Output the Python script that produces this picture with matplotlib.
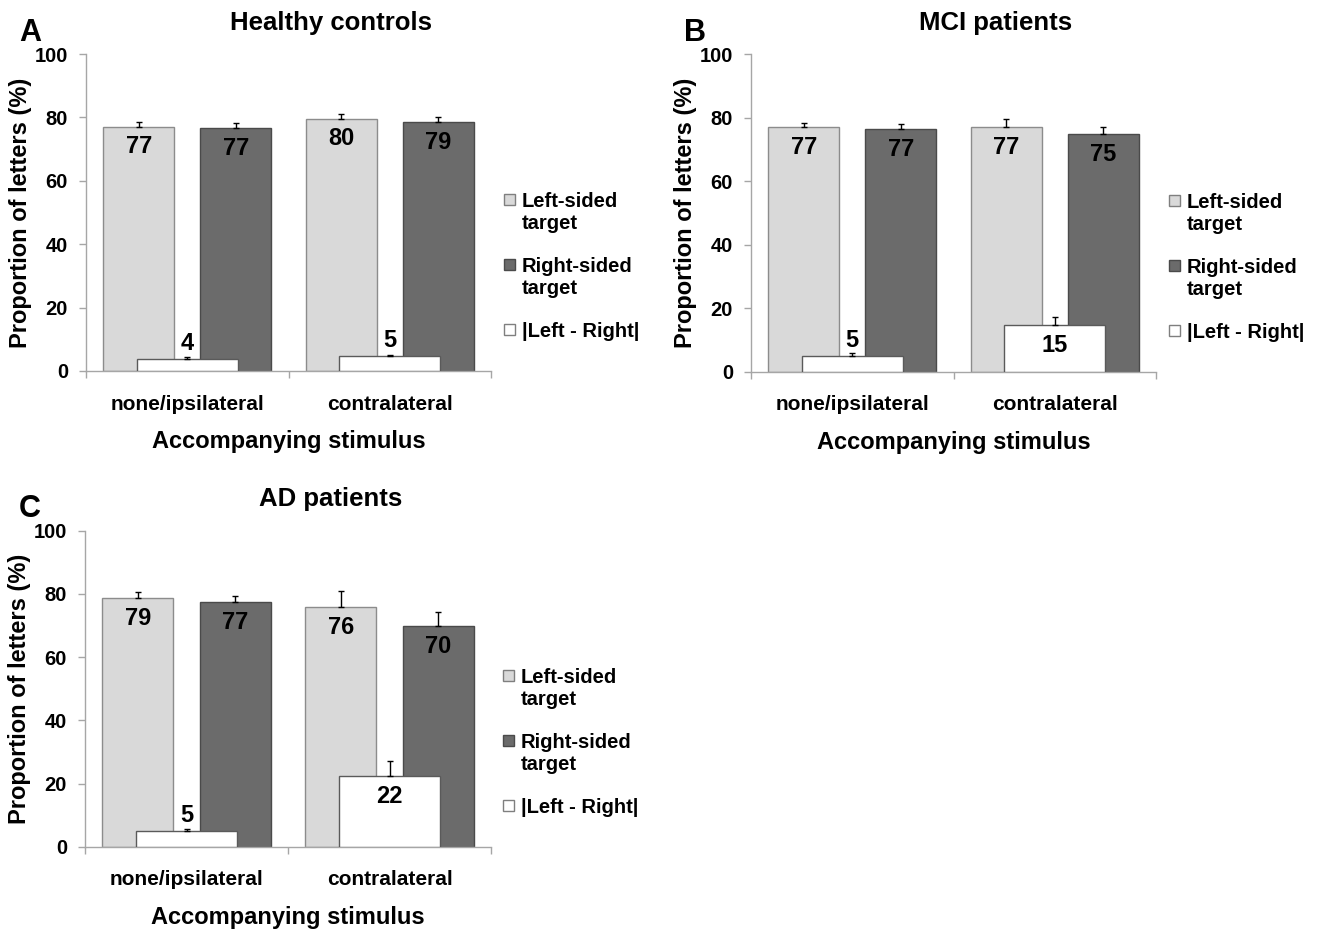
import matplotlib
matplotlib.use("Agg")
import matplotlib.pyplot as plt
from matplotlib.patches import Rectangle
import numpy as np

plt.rcParams['font.family'] = ['Liberation Sans', 'DejaVu Sans']
plt.rcParams['font.weight'] = 'bold'

# ---------------- data ----------------
categories = ["none/ipsilateral", "contralateral"]
panel_letters = ["A", "B", "C"]
panel_titles = ["Healthy controls", "MCI patients", "AD patients"]
series_names = ["Left-sided\ntarget", "Right-sided\ntarget", "|Left - Right|"]

hc_left = [77.1, 79.6]
hc_right = [76.7, 78.6]
hc_diff = [3.7, 4.6]
hc_left_err = [1.4, 1.5]
hc_right_err = [1.5, 1.5]
hc_diff_err = [0.7, 0.6]

mci_left = [77.1, 77.2]
mci_right = [76.6, 75.0]
mci_diff = [4.8, 14.6]
mci_left_err = [1.2, 2.6]
mci_right_err = [1.5, 2.2]
mci_diff_err = [1.2, 2.6]

ad_left = [78.6, 75.9]
ad_right = [77.3, 69.8]
ad_diff = [5.0, 22.4]
ad_left_err = [1.9, 5.0]
ad_right_err = [2.1, 4.4]
ad_diff_err = [0.7, 4.7]

y_ticks = [0, 20, 40, 60, 80, 100]

# ---------------- style ----------------
W, H = 1322, 930
C_LIGHT = '#d9d9d9'
C_DARK = '#6b6b6b'
C_WHITE = '#ffffff'
E_LIGHT = '#8c8c8c'
E_DARK = '#4a4a4a'
E_WHITE = '#5a5a5a'
AX_COL = '#a6a6a6'
NARROW = ['Liberation Sans Narrow', 'Liberation Sans', 'DejaVu Sans']

fig = plt.figure(figsize=(W / 100, H / 100), dpi=100)


def px_rect(l, t, r, b):
    return [l / W, 1 - b / H, (r - l) / W, (b - t) / H]


panels = [
    dict(rect=(86, 54, 491, 371), dx=0, dy=0,
         left=hc_left, right=hc_right, diff=hc_diff,
         le=hc_left_err, re=hc_right_err, de=hc_diff_err),
    dict(rect=(751, 54.5, 1156, 371.7), dx=665, dy=0,
         left=mci_left, right=mci_right, diff=mci_diff,
         le=mci_left_err, re=mci_right_err, de=mci_diff_err),
    dict(rect=(85, 530.7, 491, 846.7), dx=0, dy=476,
         left=ad_left, right=ad_right, diff=ad_diff,
         le=ad_left_err, re=ad_right_err, de=ad_diff_err),
]

off = 0.24
bw = 0.35
wbw = 0.5

for i, p in enumerate(panels):
    ax = fig.add_axes(px_rect(*p['rect']))
    x = np.arange(len(categories))
    left = np.array(p['left'])
    right = np.array(p['right'])
    diff = np.array(p['diff'])

    ax.bar(x - off, left, bw, color=C_LIGHT, edgecolor=E_LIGHT, linewidth=1, zorder=2)
    ax.bar(x + off, right, bw, color=C_DARK, edgecolor=E_DARK, linewidth=1, zorder=2)
    ax.bar(x, diff, wbw, color=C_WHITE, edgecolor=E_WHITE, linewidth=1, zorder=3)

    for xs, vals, errs in [(x - off, left, p['le']), (x + off, right, p['re']), (x, diff, p['de'])]:
        ax.errorbar(xs, vals, yerr=[np.zeros(len(vals)), np.array(errs)], fmt='none',
                    ecolor='black', elinewidth=1, capsize=2, capthick=1, zorder=4)

    for xs, vals in [(x - off, left), (x + off, right)]:
        for xx, v in zip(xs, vals):
            ax.text(xx, v - 6.4, f"{v:.0f}", ha='center', va='center',
                    fontsize=17, fontweight='bold', family=NARROW, zorder=5)
    for xx, v in zip(x, diff):
        yy = v + 5.0 if v < 10 else v - 6.4
        ax.text(xx, yy, f"{v:.0f}", ha='center', va='center',
                fontsize=17, fontweight='bold', family=NARROW, zorder=5)

    ax.set_xlim(-0.5, 1.5)
    ax.set_ylim(0, 100)
    for s in ['top', 'right']:
        ax.spines[s].set_visible(False)
    for s in ['left', 'bottom']:
        ax.spines[s].set_color(AX_COL)
        ax.spines[s].set_linewidth(1)

    ax.set_yticks(y_ticks)
    ax.set_yticklabels([str(t) for t in y_ticks])
    ax.tick_params(axis='y', length=5, color=AX_COL, width=1, labelsize=14.5, pad=8)

    ax.set_xticks(x)
    ax.set_xticklabels(categories)
    ax.set_xticks([-0.5, 0.5, 1.5], minor=True)
    ax.tick_params(axis='x', which='major', length=0, labelsize=15, pad=17)
    ax.tick_params(axis='x', which='minor', length=5, color=AX_COL, width=1)
    for lab in ax.get_xticklabels() + ax.get_yticklabels():
        lab.set_fontweight('bold')

    ax.set_xlabel("Accompanying stimulus", fontsize=17, fontweight='bold', labelpad=12)
    ax.set_ylabel("Proportion of letters (%)", fontsize=17, fontweight='bold', labelpad=2)

    # title and panel letter
    fig.text((331 + p['dx']) / W, 1 - (30 + p['dy']) / H, panel_titles[i],
             ha='center', va='baseline', fontsize=18.5, fontweight='bold')
    fig.text((19 + p['dx']) / W, 1 - (41 + p['dy']) / H, panel_letters[i],
             ha='left', va='baseline', fontsize=22, fontweight='bold')

    # legend (manual, square aligned with first text line)
    l, t, r, b = p['rect']
    axw, axh = r - l, b - t
    sq = 11
    fills = [(C_LIGHT, '#7f7f7f'), (C_DARK, '#4a4a4a'), (C_WHITE, '#7f7f7f')]
    tops = [177, 112, 47]  # px above axis bottom
    for name, (fc, ec), tp in zip(series_names, fills, tops):
        ax.add_patch(Rectangle(((504 - 86) / axw, (tp - sq) / axh), sq / axw, sq / axh,
                               transform=ax.transAxes, clip_on=False,
                               facecolor=fc, edgecolor=ec, linewidth=1))
        ax.text((522 - 86) / axw, (tp + 2) / axh, name, transform=ax.transAxes,
                ha='left', va='top', fontsize=14.5, fontweight='bold',
                linespacing=1.2)

fig.savefig("out.png", dpi=100)
